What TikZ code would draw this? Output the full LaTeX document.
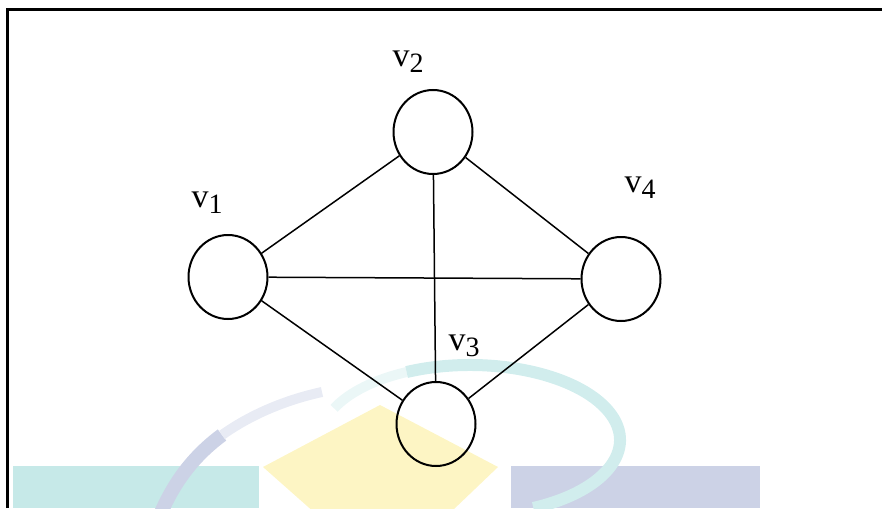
\documentclass[tikz,border=0pt]{standalone}
\usepackage{fontspec}
\setmainfont{Liberation Serif}
\usetikzlibrary{shapes.geometric}

\definecolor{marklteal}{RGB}{198,233,232}
\definecolor{marklblue}{RGB}{204,210,230}
\definecolor{marklyellow}{RGB}{253,245,196}

\newcommand{\vname}[1]{v\raisebox{-.4ex}{\fontsize{14}{14}\selectfont #1}}

\begin{document}
\begin{tikzpicture}[x=.5pt,y=-.5pt,
      vertex/.style={draw,ellipse,line width=1pt,inner sep=0pt,
        minimum width=39.5pt,minimum height=42pt},
      vlabel/.style={inner sep=0pt,font=\fontsize{17}{19}\selectfont},
      edge/.style={line width=.75pt}]
      \useasboundingbox (0,0) rectangle (882,508);
      % watermark behind the graph
      \fill[marklteal] (13,466) rectangle (259,508);
      \fill[marklblue] (511,466) rectangle (760,508);
      \fill[marklyellow] (380,405) -- (498,467) -- (385,575) -- (263,467) -- cycle;
      \draw[marklteal!35,line width=5pt] (470,440) ++(205:150 and 75) arc[start angle=205,end angle=245,x radius=150,y radius=75];
      \draw[marklteal!80,line width=6pt] (470,440) ++(245:150 and 75) arc[start angle=245,end angle=425,x radius=150,y radius=75];
      \draw[marklblue,line width=7pt] (160,515) .. controls (175,480) and (195,455) .. (222,435);
      \draw[marklblue!45,line width=5pt] (222,435) .. controls (250,415) and (285,400) .. (322,392);
      % frame
      \draw[line width=1.5pt] (7,508) -- (7,10) -- (882,10);
      % vertices
      \node[vertex] (v1) at (228,277) {};
      \node[vertex] (v2) at (433,132) {};
      \node[vertex] (v3) at (436,424) {};
      \node[vertex] (v4) at (621,279) {};
      \node[vlabel] (l1) at (207,203) {\vname{1}};
      \node[vlabel] (l2) at (408,62) {\vname{2}};
      \node[vlabel] (l3) at (464,346) {\vname{3}};
      \node[vlabel] (l4) at (640,188) {\vname{4}};
      % edges
      \draw[edge] (v1) -- (v2);
      \draw[edge] (v1) -- (v4);
      \draw[edge] (v1) -- (v3);
      \draw[edge] (v2) -- (v4);
      \draw[edge] (v2) -- (v3);
      \draw[edge] (v4) -- (v3);
    \end{tikzpicture}
\end{document}
